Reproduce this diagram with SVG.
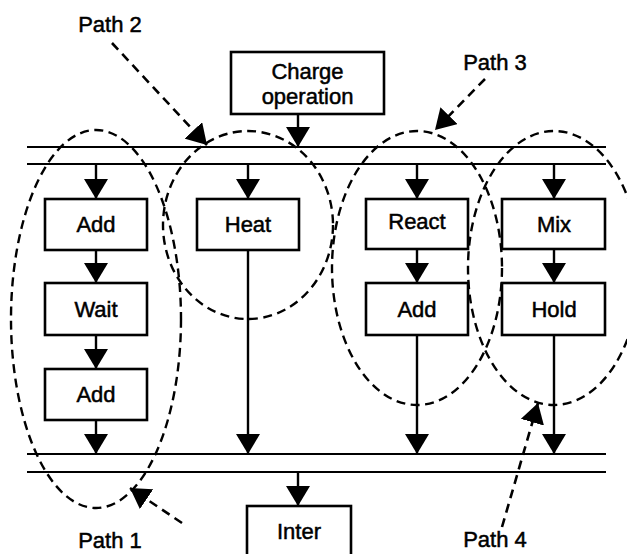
<svg xmlns="http://www.w3.org/2000/svg" width="627" height="554" viewBox="0 0 627 554">
<style>
.box{fill:#fff;stroke:#000;stroke-width:2.6}
.t{font-family:"Liberation Sans",Arial,sans-serif;font-size:22px;fill:#000;stroke:#000;stroke-width:0.5;text-anchor:middle}
.bus{stroke:#000;stroke-width:2.2;fill:none}
.arr{stroke:#000;stroke-width:2.4;fill:none;marker-end:url(#ah)}
.darr{stroke:#000;stroke-width:2.6;fill:none;stroke-dasharray:9 6;marker-end:url(#ah)}
.ell{fill:none;stroke:#000;stroke-width:2.4;stroke-dasharray:9 5.5}
</style>
<defs>
<marker id="ah" viewBox="0 0 20 24" refX="20" refY="12" markerWidth="20" markerHeight="24" markerUnits="userSpaceOnUse" orient="auto">
<path d="M0,0 L20,12 L0,24 z" fill="#000" stroke="none"/>
</marker>
</defs>
<rect width="627" height="554" fill="#fff"/>

<g id="connectors">
<line class="bus" x1="27" y1="147" x2="606" y2="147"/>
<line class="bus" x1="27" y1="164" x2="606" y2="164"/>
<line class="bus" x1="27" y1="454" x2="606" y2="454"/>
<line class="bus" x1="27" y1="472" x2="606" y2="472"/>
<line class="arr" x1="298" y1="114" x2="298" y2="147"/>
<line class="arr" x1="96" y1="164" x2="96" y2="199"/>
<line class="arr" x1="248" y1="164" x2="248" y2="199"/>
<line class="arr" x1="417" y1="164" x2="417" y2="199"/>
<line class="arr" x1="554" y1="164" x2="554" y2="199"/>
<line class="arr" x1="96" y1="250" x2="96" y2="283"/>
<line class="arr" x1="96" y1="335" x2="96" y2="369"/>
<line class="arr" x1="96" y1="420" x2="96" y2="454"/>
<line class="arr" x1="248" y1="250" x2="248" y2="454"/>
<line class="arr" x1="417" y1="249" x2="417" y2="283"/>
<line class="arr" x1="417" y1="335" x2="417" y2="454"/>
<line class="arr" x1="554" y1="249" x2="554" y2="283"/>
<line class="arr" x1="554" y1="335" x2="554" y2="454"/>
<line class="arr" x1="298" y1="472" x2="298" y2="506"/>
</g>

<g id="charge"><rect class="box" x="231" y="52" width="153" height="62"/><text class="t" x="307.5" y="79">Charge</text><text class="t" x="307.5" y="104">operation</text></g>
<g id="add1"><rect class="box" x="45" y="199" width="102" height="51"/><text class="t" x="96" y="232">Add</text></g>
<g id="wait"><rect class="box" x="45" y="283" width="102" height="52"/><text class="t" x="96" y="317">Wait</text></g>
<g id="add2"><rect class="box" x="45" y="369" width="102" height="51"/><text class="t" x="96" y="402">Add</text></g>
<g id="heat"><rect class="box" x="197" y="199" width="102" height="51"/><text class="t" x="248" y="232">Heat</text></g>
<g id="react"><rect class="box" x="366" y="199" width="102" height="50"/><text class="t" x="417" y="229">React</text></g>
<g id="add3"><rect class="box" x="366" y="283" width="102" height="52"/><text class="t" x="417" y="317">Add</text></g>
<g id="mix"><rect class="box" x="502" y="199" width="103" height="50"/><text class="t" x="554" y="232">Mix</text></g>
<g id="hold"><rect class="box" x="502" y="283" width="103" height="52"/><text class="t" x="554" y="317">Hold</text></g>
<g id="inter"><rect class="box" x="247" y="506" width="104" height="60"/><text class="t" x="299" y="539">Inter</text></g>

<g id="path1"><ellipse class="ell" cx="96" cy="319" rx="85" ry="189"/><line class="darr" x1="182" y1="523" x2="130" y2="488"/><text class="t" x="110" y="548">Path 1</text></g>
<g id="path2"><ellipse class="ell" cx="248" cy="225" rx="85" ry="94"/><line class="darr" x1="112" y1="43" x2="207" y2="145"/><text class="t" x="110" y="32">Path 2</text></g>
<g id="path3"><ellipse class="ell" cx="417" cy="268" rx="85" ry="137"/><line class="darr" x1="485" y1="79" x2="435" y2="130"/><text class="t" x="495" y="70">Path 3</text></g>
<g id="path4"><ellipse class="ell" cx="554" cy="268" rx="86" ry="137"/><line class="darr" x1="502" y1="527" x2="538" y2="403"/><text class="t" x="495" y="547">Path 4</text></g>
</svg>
